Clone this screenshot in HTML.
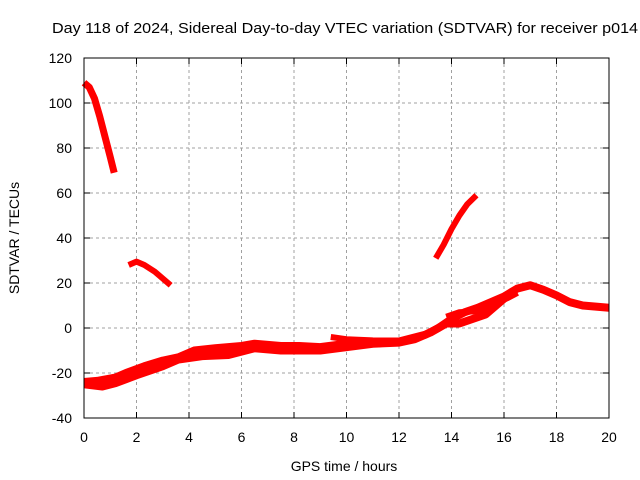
<!DOCTYPE html>
<html><head><meta charset="utf-8"><style>
body{margin:0;background:#fff;}
svg{display:block;font-family:"Liberation Sans",sans-serif;}
</style></head><body>
<svg id="chart" width="640" height="480">
<text x="345" y="33" text-anchor="middle" font-size="15" textLength="586" lengthAdjust="spacingAndGlyphs">Day 118 of 2024, Sidereal Day-to-day VTEC variation (SDTVAR) for receiver p014</text>
<g id="grid"></g>
<g id="series"></g>
<rect x="84" y="58" width="525" height="360" fill="none" stroke="#000"/>
<g id="ticks"></g>
<text x="344" y="471" text-anchor="middle" font-size="14">GPS time / hours</text>
<text transform="translate(19,238) rotate(-90)" text-anchor="middle" font-size="14">SDTVAR / TECUs</text>
</svg>
<script>
const xTicks=[0,2,4,6,8,10,12,14,16,18,20];
const yTicks=[-40,-20,0,20,40,60,80,100,120];
const segA=[[0,109],[0.2,107],[0.4,102],[0.6,94],[0.8,85],[1.0,76],[1.15,69]];
const segB=[[1.7,28],[2.0,29.5],[2.3,28],[2.7,25],[3.0,22],[3.3,19]];
const segC=[[13.4,31],[13.7,37],[14.0,44],[14.3,50],[14.6,55],[14.95,59]];
const bandUpper=[[0,-24],[0.5,-23.5],[1.2,-22],[1.6,-20],[2.3,-17],[3,-14.5],[3.6,-13],[4.2,-10],[5,-9],[6,-8],[6.5,-7],[7.5,-8],[8.2,-8],[9,-8.5],[10,-7],[11,-6],[12,-6],[12.5,-4.5],[13,-3],[13.5,0],[14,4],[14.5,7],[15,9],[15.5,11.5],[16,14],[16.5,17.5],[17,19],[17.5,17],[18,14.5],[18.5,11.5],[19,10],[19.5,9.5],[20,9]];
const bandLower=[[0,-25],[0.7,-26],[1.2,-24.5],[2,-21],[3,-17],[3.6,-14],[4.5,-12.5],[5.5,-12],[6.5,-9],[7.5,-10],[8.2,-10],[9,-10],[10,-8.5],[11,-7],[12,-6.5],[12.6,-5],[13.2,-2],[13.8,2],[14.3,2],[15.3,6],[16,13],[16.5,16]];
const bandMidA=[[4.2,-12],[5,-11],[6,-10],[7,-8.5]];
const bandMidB=[[9.4,-4],[10,-5],[11,-5.5]];
const bandMidC=[[13.8,5],[14.3,7],[15,7.5],[15.5,9]];
const X=h=>84+h*525/20, Y=v=>418-(v+40)*2.25;
const ns="http://www.w3.org/2000/svg";
const grid=document.getElementById('grid'),ticks=document.getElementById('ticks'),ser=document.getElementById('series');
function mk(tag,attrs,parent){const e=document.createElementNS(ns,tag);for(const k in attrs)e.setAttribute(k,attrs[k]);parent.appendChild(e);return e;}
xTicks.forEach(t=>{
 if(t>0&&t<20){const l=mk('line',{x1:X(t),x2:X(t),y1:58,y2:418,stroke:'#a0a0a0','stroke-dasharray':'3,3'},grid);
 
 }
 mk('line',{x1:X(t),x2:X(t),y1:418,y2:412,stroke:'#000'},ticks);
 mk('line',{x1:X(t),x2:X(t),y1:58,y2:64,stroke:'#000'},ticks);
 const tx=mk('text',{x:X(t),y:442,'text-anchor':'middle','font-size':14},ticks);tx.textContent=t;
 
 
});
yTicks.forEach(t=>{
 if(t>-40&&t<120){const l=mk('line',{x1:84,x2:609,y1:Y(t),y2:Y(t),stroke:'#a0a0a0','stroke-dasharray':'3,3'},grid);
 
 }
 mk('line',{x1:84,x2:90,y1:Y(t),y2:Y(t),stroke:'#000'},ticks);
 mk('line',{x1:609,x2:603,y1:Y(t),y2:Y(t),stroke:'#000'},ticks);
 const tx=mk('text',{x:72,y:Y(t)+5,'text-anchor':'end','font-size':14},ticks);tx.textContent=t;
 
 
});
[[segA,7,'segment-a'],[segB,6,'segment-b'],[segC,6,'segment-c'],[bandUpper,8,'band-upper'],[bandLower,8,'band-lower'],[bandMidA,6,'band-mid-a'],[bandMidB,6,'band-mid-b'],[bandMidC,6,'band-mid-c']].forEach(([d,w,n])=>{
 const p=mk('polyline',{points:d.map(q=>X(q[0])+','+Y(q[1])).join(' '),fill:'none',stroke:'#ff0000','stroke-width':w,'stroke-linejoin':'round'},ser);
 
 
});
</script>
</body></html>
